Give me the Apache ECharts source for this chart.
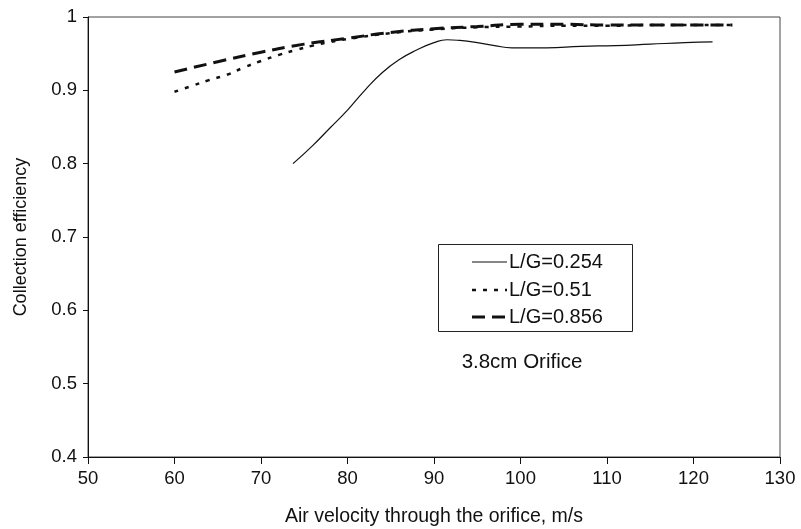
<!DOCTYPE html>
<html>
<head>
<meta charset="utf-8">
<script src="https://cdn.jsdelivr.net/npm/echarts@6/dist/echarts.min.js"></script>
<style>
html,body{margin:0;padding:0;background:#fff;}
#chart{width:801px;height:529px;}
</style>
</head>
<body>
<div id="chart"></div>
<script>
// Data
const seriesNames = ['L/G=0.254', 'L/G=0.51', 'L/G=0.856'];

const vel254 = [73.7, 76, 78, 80, 82, 84, 86, 88, 90, 91.5, 93, 95, 97, 99, 103, 107, 111, 115, 119, 122.2];
const eff254 = [0.800, 0.825, 0.849, 0.873, 0.900, 0.924, 0.942, 0.955, 0.965, 0.969, 0.968, 0.965, 0.961, 0.958, 0.958, 0.960, 0.961, 0.963, 0.965, 0.966];

const vel051 = [60, 62, 64, 66, 68, 70, 72, 74, 76, 78, 80, 85, 90, 95, 100, 105, 110, 115, 120, 125];
const eff051 = [0.898, 0.906, 0.914, 0.921, 0.931, 0.940, 0.948, 0.955, 0.961, 0.966, 0.970, 0.978, 0.983, 0.986, 0.987, 0.988, 0.988, 0.989, 0.989, 0.989];

const vel0856 = [60, 65, 70, 75, 80, 85, 90, 95, 100, 105, 110, 115, 120, 124.5];
const eff0856 = [0.925, 0.939, 0.952, 0.963, 0.971, 0.979, 0.984, 0.987, 0.990, 0.990, 0.989, 0.989, 0.989, 0.989];

const xTicks = [50, 60, 70, 80, 90, 100, 110, 120, 130];
const yTicks = [0.4, 0.5, 0.6, 0.7, 0.8, 0.9, 1];

const annotationText = '3.8cm Orifice';
const xTitle = 'Air velocity through the orifice, m/s';
const yTitle = 'Collection efficiency';

const zip = (xs, ys) => xs.map((x, i) => [x, ys[i]]);
const FONT = '"Liberation Sans", Arial, Helvetica, sans-serif';
const INK = '#111';

// line styles shared by the series and the legend keys
const styles = [
  {color: INK, width: 1.2, type: 'solid'},
  {color: INK, width: 2.5, type: [4, 7]},
  {color: INK, width: 3, type: [13, 7]}
];
const lineData = [zip(vel254, eff254), zip(vel051, eff051), zip(vel0856, eff0856)];

// legend drawn as graphic elements (box, keys, labels)
const legendBox = {x: 438.5, y: 244.5, w: 194, h: 87};
const legendRows = [262, 290, 317];
const legendGraphics = [
  {type: 'rect', shape: {x: legendBox.x, y: legendBox.y, width: legendBox.w, height: legendBox.h},
    style: {fill: '#fff', stroke: '#222', lineWidth: 1}, z: 100}
];
seriesNames.forEach((n, i) => {
  const s = styles[i];
  legendGraphics.push({type: 'line', z: 101,
    shape: {x1: 472, y1: legendRows[i], x2: 507, y2: legendRows[i]},
    style: {stroke: s.color, lineWidth: s.width, lineDash: s.type === 'solid' ? null : s.type}});
  legendGraphics.push({type: 'text', z: 101,
    style: {text: n, x: 509, y: legendRows[i], fontFamily: FONT, fontSize: 20, fill: INK,
      textAlign: 'left', textVerticalAlign: 'middle'}});
});

const chart = echarts.init(document.getElementById('chart'), null, {renderer: 'canvas'});
chart.setOption({
  animation: false,
  backgroundColor: '#fff',
  grid: {left: 88, right: 21, top: 17, bottom: 72, containLabel: false, outerBoundsMode: 'none',
    show: true, borderColor: '#444', borderWidth: 1, backgroundColor: 'transparent'},
  xAxis: {
    type: 'value', min: xTicks[0], max: xTicks[xTicks.length - 1], interval: 10,
    name: xTitle, nameLocation: 'middle', nameGap: 50,
    nameTextStyle: {fontFamily: FONT, fontSize: 19.5, color: INK},
    axisLine: {show: true, lineStyle: {color: INK, width: 1}},
    axisTick: {show: true, inside: false, length: 7, lineStyle: {color: INK}},
    axisLabel: {fontFamily: FONT, fontSize: 18.5, color: INK, margin: 12, formatter: v => String(v)},
    splitLine: {show: false}
  },
  yAxis: {
    type: 'value', min: yTicks[0], max: yTicks[yTicks.length - 1], interval: 0.1,
    name: yTitle, nameLocation: 'middle', nameGap: 58, nameRotate: 90,
    nameTextStyle: {fontFamily: FONT, fontSize: 18, color: INK},
    axisLine: {show: true, lineStyle: {color: INK, width: 1}},
    axisTick: {show: true, inside: false, length: 5, lineStyle: {color: INK}},
    axisLabel: {fontFamily: FONT, fontSize: 18.5, color: INK, margin: 11,
      formatter: v => String(Math.round(v * 10) / 10)},
    splitLine: {show: false}
  },
  graphic: legendGraphics.concat([
    {type: 'text', z: 101, style: {text: annotationText, x: 522, y: 362, fontFamily: FONT, fontSize: 20.5, fill: INK,
      textAlign: 'center', textVerticalAlign: 'middle'}}
  ]),
  series: seriesNames.map((n, i) => ({
    name: n, type: 'line', data: lineData[i], smooth: true, symbol: 'none',
    lineStyle: styles[i], itemStyle: {color: INK}
  }))
});
</script>
</body>
</html>
